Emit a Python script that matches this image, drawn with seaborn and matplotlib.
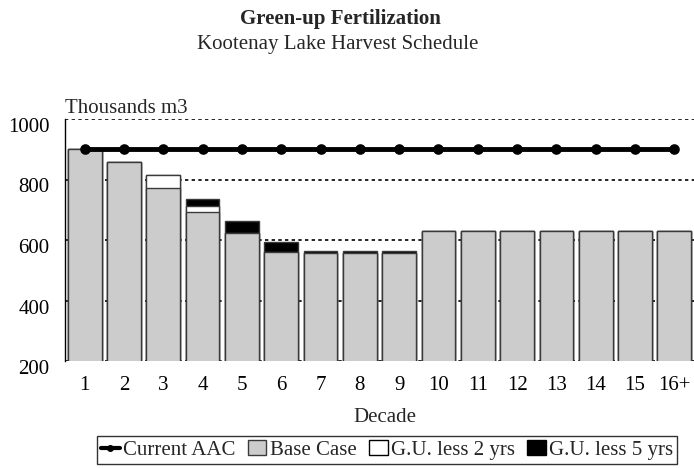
#Green-up fertilization harvest schedule chart
import numpy as np
import pandas as pd
import matplotlib
matplotlib.use("Agg")
import matplotlib.pyplot as plt
import matplotlib.transforms as mtrans
from matplotlib.lines import Line2D
from matplotlib.patches import Patch
import seaborn as sns

#Data (thousands m3)
decades = ['1', '2', '3', '4', '5', '6', '7', '8', '9', '10', '11', '12', '13', '14', '15', '16+']
base_case = [900, 858, 772, 693, 624, 560, 557, 557, 557, 630, 630, 630, 630, 630, 630, 630]
gu_less_2 = [900, 858, 814, 713, 624, 560, 557, 557, 557, 630, 630, 630, 630, 630, 630, 630]
gu_less_5 = [900, 858, 814, 735, 662, 594, 563, 563, 563, 630, 630, 630, 630, 630, 630, 630]
current_aac = [900] * 16
yticks = [200, 400, 600, 800, 1000]

sns.set_style("white")
plt.rcParams['font.family'] = ['Liberation Serif', 'DejaVu Serif']
fs = 15

fig = plt.figure(figsize=(6.94, 4.68), dpi=100)
ax = fig.add_axes([65/694, 1-361/468, 1-65/694, (361-119)/468])

edge = '#3a3a3a'
#layered bars: totals drawn back to front
sns.barplot(x=decades, y=gu_less_5, color='black', width=0.86, edgecolor=edge, linewidth=1, saturation=1, ax=ax)
sns.barplot(x=decades, y=gu_less_2, color='white', width=0.86, edgecolor=edge, linewidth=1, saturation=1, ax=ax)
sns.barplot(x=decades, y=base_case, color='#cccccc', width=0.86, edgecolor=edge, linewidth=1, saturation=1, ax=ax)
sns.pointplot(x=decades, y=current_aac, color='black', markers='o', markersize=5, linewidth=3.5, errorbar=None, ax=ax)

ax.set_ylim(200, 1000)
ax.set_xlim(-0.5, 15.5)
ax.set_yticks(yticks)
ax.set_axisbelow(True)
ax.yaxis.grid(True, color='black', linestyle=(0, (2, 2)), linewidth=1.2)
ax.xaxis.grid(False)
for s in ['top', 'right', 'bottom']:
	ax.spines[s].set_visible(False)
ax.spines['left'].set_color('black')
ax.spines['left'].set_linewidth(1)
ax.tick_params(axis='both', length=0, labelsize=fs, colors='black')
ax.tick_params(axis='x', pad=11)
ax.tick_params(axis='y', pad=11)
ax.set_xlabel('')
ax.set_ylabel('')
#y labels sit a little below their gridlines
shift = mtrans.ScaledTranslation(0, -6/100, fig.dpi_scale_trans)
for lab in ax.get_yticklabels():
	lab.set_transform(lab.get_transform() + shift)

fig.text(340/694, 1-19/468, 'Green-up Fertilization', ha='center', va='center', fontsize=fs, fontweight='bold')
fig.text(338/694, 1-45/468, 'Kootenay Lake Harvest Schedule', ha='center', va='center', fontsize=fs)
fig.text(65/694, 1-108/468, 'Thousands m3', ha='left', va='center', fontsize=fs)
fig.text(385/694, 1-418/468, 'Decade', ha='center', va='center', fontsize=fs)

handles = [Line2D([0], [0], color='black', lw=3, marker='o', markersize=4),
	Patch(facecolor='#cccccc', edgecolor=edge),
	Patch(facecolor='white', edgecolor='black'),
	Patch(facecolor='black', edgecolor='black')]
labels = ['Current AAC', 'Base Case', 'G.U. less 2 yrs', 'G.U. less 5 yrs']
leg = fig.legend(handles, labels, loc='center', bbox_to_anchor=(387/694, 1-450/468), ncol=4,
	fontsize=fs, frameon=True, fancybox=False, edgecolor='black', handlelength=0.9,
	handletextpad=0.15, columnspacing=0.6, borderpad=0.2, borderaxespad=0)
leg.get_frame().set_linewidth(1)

plt.savefig('out.png', dpi=100)
